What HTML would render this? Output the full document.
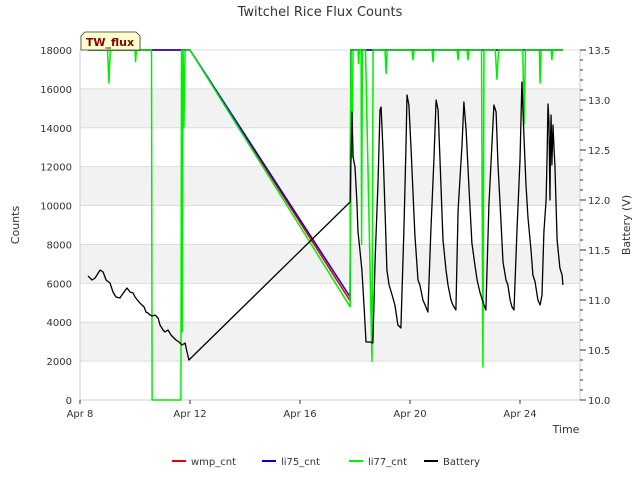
<!DOCTYPE html>
<html><head><meta charset="utf-8"><style>
body{margin:0;background:#fff;font-family:"Liberation Sans","DejaVu Sans",sans-serif;}
svg text{font-family:"DejaVu Sans","Liberation Sans",sans-serif;}
</style></head><body>
<svg id="c" width="640" height="480" viewBox="0 0 640 480" xmlns="http://www.w3.org/2000/svg">
<text x="320" y="16" text-anchor="middle" font-size="13" fill="#333">Twitchel Rice Flux Counts</text>
<g id="bands"></g><g id="grid"></g><g id="axes"></g><g id="series"></g>
<g>
<polygon points="85,32 136,32 140,36 140,50 81,50 81,36" fill="#ffffcc" stroke="#333" stroke-width="0.8"/>
<text x="110" y="46" text-anchor="middle" font-size="11" font-weight="bold" fill="#8b0000">TW_flux</text>
</g>
<text transform="translate(19,225) rotate(-90)" text-anchor="middle" font-size="11" fill="#333">Counts</text>
<text transform="translate(630,225) rotate(-90)" text-anchor="middle" font-size="11" fill="#333">Battery (V)</text>
<text x="566" y="433" text-anchor="middle" font-size="11" fill="#333">Time</text>
<g id="legend"></g>
</svg>
<script>
const xTickDays=[0,4,8,12,16];
const xTickLabels=["Apr 8","Apr 12","Apr 16","Apr 20","Apr 24"];
const yTicks=[0,2000,4000,6000,8000,10000,12000,14000,16000,18000];
const y2Ticks=[10.0,10.5,11.0,11.5,12.0,12.5,13.0,13.5];
const wmpDays=[0.29,4.0,9.82,9.85,17.56];
const wmpVals=[18000,18000,5100,18000,18000];
const li75Days=[0.29,4.0,9.82,9.85,17.56];
const li75Vals=[18000,18000,5300,18000,18000];
const li77Days=[0.29,1.0,1.05,1.1,2.0,2.02,2.05,2.6,2.62,3.67,3.69,3.72,3.75,3.78,3.82,4.0,9.82,9.85,9.89,9.93,10.11,10.13,10.16,10.22,10.24,10.27,10.38,10.62,10.66,11.09,11.13,11.17,12.07,12.11,12.15,12.8,12.84,12.87,13.71,13.75,13.78,14.07,14.11,14.15,14.6,14.65,14.69,15.1,15.16,15.22,16.1,16.15,16.2,16.7,16.73,16.77,17.13,17.16,17.19,17.56];
const li77Vals=[18000,18000,16300,18000,18000,17400,18000,18000,0,0,18000,3500,18000,14000,18000,18000,4800,18000,12500,18000,18000,17300,18000,18000,8000,18000,18000,2000,18000,18000,16800,18000,18000,17500,18000,18000,17400,18000,18000,17500,18000,18000,17500,18000,18000,1700,18000,18000,16500,18000,18000,14200,18000,18000,16300,18000,18000,17500,18000,18000];
const batDays=[0.29,0.44,0.55,0.73,0.84,0.95,1.09,1.20,1.31,1.45,1.60,1.71,1.82,1.93,2.00,2.18,2.33,2.40,2.47,2.55,2.62,2.73,2.84,2.91,3.02,3.09,3.20,3.31,3.38,3.49,3.60,3.71,3.82,3.89,3.96,9.82,
9.89,9.93,10.00,10.07,10.11,10.18,10.25,10.33,10.40,10.55,10.65,10.73,10.84,10.91,10.95,11.02,11.09,11.16,11.24,11.35,11.45,11.56,11.67,11.78,11.85,11.89,11.96,12.04,12.18,12.29,12.36,12.47,12.55,12.65,12.76,12.87,12.95,13.02,13.09,13.20,13.31,13.38,13.49,13.56,13.67,13.75,13.89,13.96,14.04,14.15,14.25,14.36,14.44,14.55,14.69,14.76,14.87,14.98,15.05,15.13,15.20,15.31,15.38,15.49,15.56,15.64,15.71,15.78,15.89,16.00,16.07,16.15,16.22,16.29,16.40,16.47,16.55,16.65,16.73,16.80,16.87,16.95,16.98,17.02,17.05,17.09,17.11,17.13,17.16,17.20,17.24,17.27,17.35,17.42,17.45,17.53,17.56];
const batVolts=[11.24,11.20,11.22,11.30,11.28,11.20,11.17,11.08,11.03,11.02,11.08,11.12,11.08,11.07,11.03,10.97,10.93,10.88,10.87,10.85,10.84,10.85,10.82,10.75,10.70,10.68,10.70,10.65,10.63,10.60,10.58,10.55,10.57,10.48,10.40,11.98,
12.88,12.43,12.33,11.98,11.68,11.50,11.30,10.93,10.58,10.58,10.57,11.40,12.20,12.90,12.93,12.47,11.90,11.30,11.15,11.05,10.95,10.75,10.72,11.70,12.50,13.05,12.95,12.50,11.65,11.20,11.15,11.00,10.95,10.88,11.70,12.40,13.00,12.90,12.40,11.60,11.30,11.15,11.00,10.95,10.90,11.90,12.55,12.98,12.70,12.10,11.57,11.35,11.20,11.07,10.95,10.90,11.95,12.55,12.95,12.88,12.35,11.78,11.38,11.20,11.15,11.00,10.93,10.90,11.70,12.40,13.18,12.60,12.15,11.82,11.50,11.25,11.18,11.00,10.95,11.05,11.68,12.00,12.40,12.96,12.80,12.00,12.60,12.85,12.35,12.75,12.50,12.35,11.60,11.40,11.32,11.25,11.15];

const X0=80,X1=580,Y0=400,Y1=50;
const xs=d=>X0+d*27.5;
const ys=v=>Y0-(v/18000)*(Y0-Y1);
const ys2=b=>Y0-((b-10)/3.5)*(Y0-Y1);
const NS="http://www.w3.org/2000/svg";
function mk(tag,attrs,parent){const e=document.createElementNS(NS,tag);for(const k in attrs)e.setAttribute(k,attrs[k]);document.getElementById(parent).appendChild(e);return e;}
// bands
for(let i=1;i<yTicks.length-1;i+=2){
 const r=mk('rect',{x:X0,y:ys(yTicks[i+1]),width:X1-X0,height:ys(yTicks[i])-ys(yTicks[i+1]),fill:'#f2f2f2'},'bands');
 
 
}
yTicks.forEach(v=>{
 const l=mk('line',{x1:X0,x2:X1,y1:ys(v),y2:ys(v),stroke:'#dddddd','stroke-width':1},'grid');
 
 
 const t=mk('text',{x:X0-8,y:ys(v)+4,'text-anchor':'end','font-size':10,fill:'#333'},'axes');
 t.textContent=v;
 
 
});
mk('line',{x1:X0,x2:X0,y1:Y1,y2:Y0,stroke:'#cccccc'},'axes');
mk('line',{x1:X0,x2:X1,y1:Y0,y2:Y0,stroke:'#cccccc'},'axes');
mk('line',{x1:X1,x2:X1,y1:Y1,y2:Y0,stroke:'#cccccc'},'axes');
xTickDays.forEach((d,i)=>{
 mk('line',{x1:xs(d),x2:xs(d),y1:Y0,y2:Y0+4,stroke:'#333'},'axes');
 const t=mk('text',{x:xs(d),y:Y0+17,'text-anchor':'middle','font-size':10,fill:'#333'},'axes');
 t.textContent=xTickLabels[i];
 
 
});
for(let b=10;b<=13.501;b+=0.1){mk('line',{x1:X1,x2:X1+3,y1:ys2(b),y2:ys2(b),stroke:'#333'},'axes');}
y2Ticks.forEach(b=>{
 mk('line',{x1:X1,x2:X1+6,y1:ys2(b),y2:ys2(b),stroke:'#333'},'axes');
 const t=mk('text',{x:X1+8,y:ys2(b)+4,'font-size':10,fill:'#333'},'axes');
 t.textContent=b.toFixed(1);
 
 
});
function line(days,vals,sc,color,w,name){
 const pts=days.map((d,i)=>xs(d).toFixed(1)+','+sc(vals[i]).toFixed(1)).join(' ');
 const p=mk('polyline',{points:pts,fill:'none',stroke:color,'stroke-width':w,'stroke-linejoin':'round'},'series');
 
 
}
line(wmpDays,wmpVals,ys,'#dd0000',1.5,'wmp-cnt-line');
line(li75Days,li75Vals,ys,'#0000cc',1.5,'li75-cnt-line');
line(li77Days,li77Vals,ys,'#00ee00',1.5,'li77-cnt-line');
line(batDays,batVolts,ys2,'#000000',1.3,'battery-line');
const legNames=["wmp_cnt","li75_cnt","li77_cnt","Battery"];
const legColors=["#dd0000","#0000cc","#00ee00","#000000"];
const legX=[172,262,349,424];
legNames.forEach((n,i)=>{
 const g=mk('g',{},'legend');
 
 
 const l=document.createElementNS(NS,'line');
 l.setAttribute('x1',legX[i]);l.setAttribute('x2',legX[i]+14);l.setAttribute('y1',461);l.setAttribute('y2',461);
 l.setAttribute('stroke',legColors[i]);l.setAttribute('stroke-width',2);g.appendChild(l);
 const t=document.createElementNS(NS,'text');
 t.setAttribute('x',legX[i]+19);t.setAttribute('y',465);t.setAttribute('font-size',10);t.setAttribute('fill','#333');
 t.textContent=n;g.appendChild(t);
});
</script>
</body></html>
